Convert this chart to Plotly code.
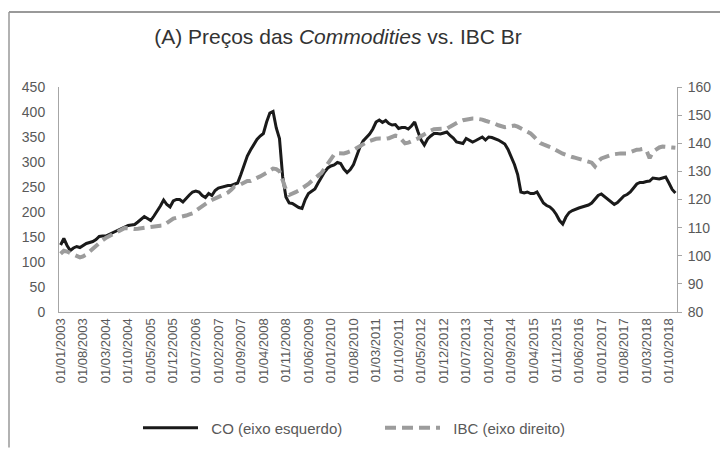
import pandas as pd
import plotly.graph_objects as go

# monthly dates Jan/2003 - Dec/2018 (category labels as in the source sheet)
months = [f"01/{m:02d}/{y}" for y in range(2003, 2019) for m in range(1, 13)]

# Commodities index (left axis)
co = [134, 147, 133, 123, 128, 131, 129, 133, 137, 139, 141, 145,
      151, 152, 152, 155, 158, 160, 164, 167, 170, 173, 174, 175,
      180, 186, 191, 187, 183, 192, 201, 212, 224, 215, 210, 222,
      225, 225, 220, 228, 234, 240, 242, 240, 233, 229, 237, 233,
      243, 248, 250, 252, 253, 253, 256, 258, 275, 295, 312, 324,
      334, 345, 352, 357, 380, 398, 401, 368, 347, 270, 230, 218,
      217, 213, 209, 207, 225, 237, 241, 246, 258, 269, 280, 288,
      292, 294, 299, 297, 286, 279, 285, 295, 312, 330, 342, 348,
      356, 366, 380, 384, 379, 383, 377, 374, 375, 367, 369, 369,
      366, 372, 380, 361, 344, 334, 346, 352, 357, 357, 356, 358,
      360, 353, 348, 340, 338, 337, 347, 343, 340, 343, 347, 350,
      344, 350, 349, 347, 344, 340, 336, 325, 310, 295, 275, 240,
      238, 240, 237, 237, 240, 228, 218, 213, 210, 204, 195, 183,
      176, 190, 199, 203, 206, 208, 210, 212, 214, 218, 225, 233,
      236, 231, 225, 220, 215, 219, 225, 232, 235, 240, 248, 256,
      259, 259, 261, 262, 268, 267, 266, 268, 270, 258, 245, 238]

# IBC-Br (right axis)
ibc = [100.7, 101.8, 101.5, 101.0, 100.3, 99.8, 99.4, 99.8, 100.4, 101.5, 102.6, 103.6,
       104.6, 105.5, 106.3, 106.9, 107.4, 107.9, 108.6, 109.3, 109.9, 109.8, 109.6, 109.5,
       109.6, 109.8, 110.0, 110.2, 110.4, 110.5, 110.6, 110.7, 110.8, 111.6, 112.5, 113.2,
       113.5, 113.7, 113.9, 114.3, 114.7, 115.1, 116.0, 116.9, 117.7, 118.4, 119.2, 119.8,
       120.3, 120.9, 121.4, 121.8, 122.5, 123.5, 124.6, 124.8, 125.4, 126.2, 126.6, 126.6,
       127.0, 127.7, 128.2, 128.7, 129.5, 130.3, 131.0, 130.8, 130.0, 126.8, 123.5, 121.6,
       122.0, 122.6, 123.2, 123.9, 124.7, 125.5, 126.6, 127.8, 128.5, 129.4, 131.0, 132.9,
       134.6, 136.0, 136.5, 136.4, 136.4, 136.7, 137.1, 137.6, 138.3, 139.1, 139.8, 140.3,
       140.8, 141.3, 141.6, 141.7, 141.6, 141.6, 141.8, 142.3, 142.7, 142.5, 141.2, 140.0,
       140.2, 140.6, 141.0, 141.7, 142.5, 143.3, 143.9, 144.5, 145.0, 145.1, 145.0, 145.0,
       145.2, 145.9, 146.6, 147.3, 147.8, 148.2, 148.5, 148.7, 148.8, 148.8, 148.7, 148.4,
       148.0, 147.7, 147.4, 146.9, 146.4, 146.0, 145.7, 145.9, 146.2, 146.3, 145.9, 145.3,
       144.7, 144.3, 143.5, 142.4, 141.1, 140.1, 139.6, 139.2, 138.8, 138.2, 137.5, 136.8,
       136.3, 135.9, 135.4, 135.1, 134.8, 134.5, 134.3, 134.0, 133.6, 133.1, 131.8, 133.6,
       134.6, 135.1, 135.5, 135.8, 136.1, 136.4, 136.4, 136.4, 136.4, 136.8, 137.3, 137.7,
       137.8, 138.0, 137.5, 134.7, 137.0, 137.8, 138.5, 138.8, 138.8, 138.7, 138.5, 138.4]

tick_labels = months[::7]

df = pd.DataFrame({'Mes': months, 'CO': co, 'IBC': ibc})

# the page body adds an 8px margin, so the figure is drawn 8px smaller
OFF = 8
W, H = 728 - OFF, 457 - OFF
# plot area (page pixels): x 59..677, y 87..318
L, R, T, B = 59 - OFF, 677 - OFF, 87 - OFF, 318 - OFF
pw, ph = R - L, B - T

def px_x(p):
    return (p - OFF - L) / pw

def px_y(p):
    return (B - (p - OFF)) / ph

axis_font = dict(family="Liberation Sans, Arial, sans-serif", size=14, color="#595959")
nb = '\u00a0\u00a0'

fig = go.Figure()
fig.add_trace(go.Scatter(x=df['Mes'], y=df['CO'], name=nb + 'CO (eixo esquerdo)',
                         mode='lines', line=dict(color='#1a1a1a', width=3)))
fig.add_trace(go.Scatter(x=df['Mes'], y=df['IBC'], name=nb + 'IBC (eixo direito)',
                         mode='lines', yaxis='y2',
                         line=dict(color='#9c9c9c', width=4, dash='11px,6px')))

fig.update_layout(
    width=W, height=H,
    margin=dict(l=L, r=W - R, t=T, b=H - B),
    paper_bgcolor='white', plot_bgcolor='white',
    font=axis_font,
    title=dict(text='(A) Preços das <i>Commodities</i> vs. IBC Br',
               x=(338 - OFF) / W, xanchor='center', y=1 - (37 - OFF) / H, yanchor='middle',
               font=dict(family="Liberation Sans, Arial, sans-serif", size=21, color='#333333')),
    xaxis=dict(type='category', range=[-0.5, len(months) - 0.5],
               tickmode='array', tickvals=tick_labels, ticktext=tick_labels,
               tickangle=-90, showgrid=False, showline=True, linecolor='#a6a6a6',
               linewidth=1, ticks='', tickfont=dict(size=13)),
    yaxis=dict(range=[0, 450], dtick=50, showgrid=False, showline=True,
               linecolor='#a6a6a6', linewidth=1, ticks='', zeroline=False,
               ticklabelstandoff=10),
    yaxis2=dict(range=[80, 160], dtick=10, overlaying='y', side='right',
                showgrid=False, showline=True, linecolor='#a6a6a6', linewidth=1,
                ticks='outside', ticklen=4, tickcolor='#a6a6a6', zeroline=False,
                ticklabelstandoff=3),
    legend=dict(orientation='h', x=px_x(138), xanchor='left', y=px_y(437), yanchor='middle',
                itemwidth=55, entrywidth=172, font=dict(size=15, color='#595959')),
)

# chart frame (top and left edges)
fig.add_shape(type='line', xref='paper', yref='paper', layer='above',
              x0=px_x(OFF + 1), x1=px_x(728), y0=px_y(10), y1=px_y(10),
              line=dict(color='#999999', width=2))
fig.add_shape(type='line', xref='paper', yref='paper', layer='above',
              x0=px_x(OFF + 1), x1=px_x(OFF + 1), y0=px_y(10), y1=px_y(457),
              line=dict(color='#999999', width=1.5))

fig.write_html("out.html")
